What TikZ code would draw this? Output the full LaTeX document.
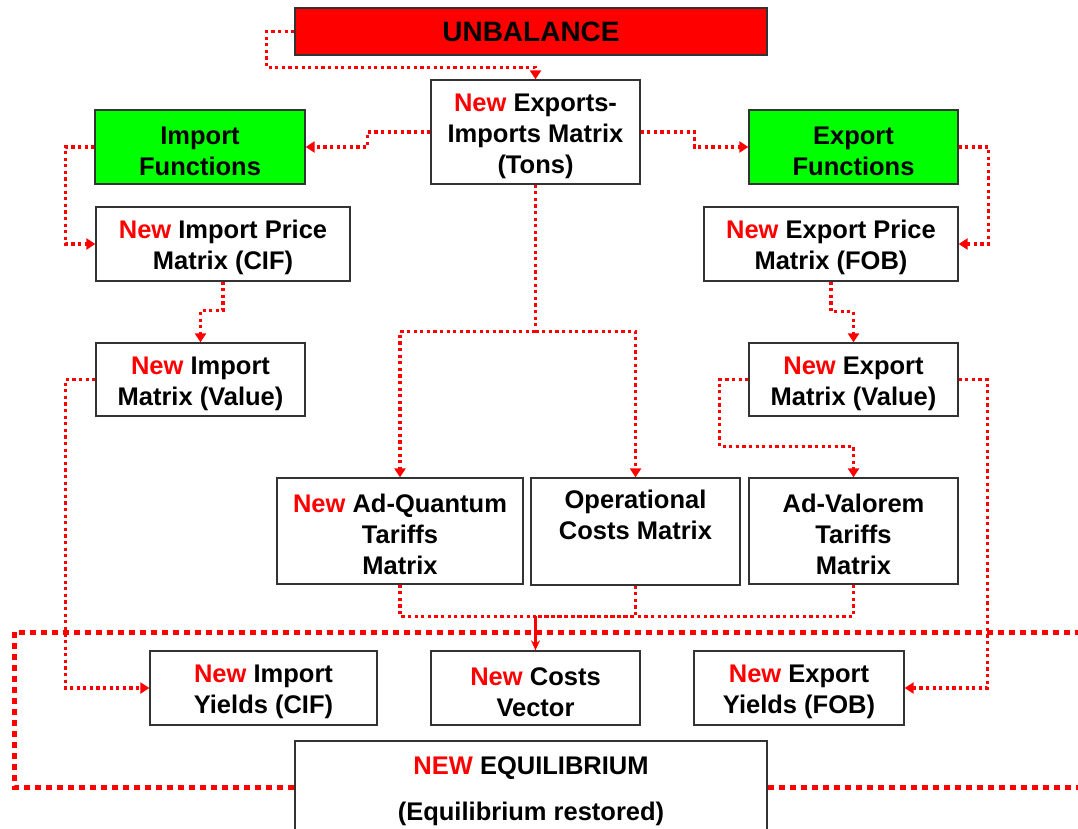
\documentclass[tikz,border=0pt]{standalone}
\usepackage{fontspec}
\setmainfont{Liberation Sans}
\usetikzlibrary{arrows.meta,calc}
\definecolor{pred}{RGB}{255,0,0}
\definecolor{pgreen}{RGB}{0,255,0}
\newcommand{\tp}{\rule{0pt}{26pt}}
\newcommand{\nw}{\tp\textcolor{pred}{New}}
\begin{document}
\begin{tikzpicture}[x=1pt,y=-1pt,
  box/.style={draw=black!80, line width=1.3pt, fill=white, align=center, inner sep=0pt,
    font=\fontsize{25.5}{31}\selectfont\bfseries},
  dl/.style={draw=pred, line width=3.2pt, dash pattern=on 3.2pt off 3.4pt},
  big/.style={draw=pred, line width=5pt, dash pattern=on 6pt off 5pt},
  tip/.style={-{Triangle[width=11pt,length=9pt]}}]
\useasboundingbox (0,0) rectangle (1078,828);

\node[box, fill=pred, minimum width=472pt, minimum height=47pt,
  font=\fontsize{28}{32}\selectfont\bfseries] (unb) at (531,31.5) {UNBALANCE};
\node[box, minimum width=209pt, minimum height=104pt] (eim) at (535.5,132) {\nw{} Exports-\\Imports Matrix\\(Tons)};
\node[box, fill=pgreen, minimum width=210pt, minimum height=74pt] (imf) at (200,147) {\tp Import\\Functions};
\node[box, fill=pgreen, minimum width=209pt, minimum height=74pt] (exf) at (853.5,147) {\tp Export\\Functions};
\node[box, minimum width=254pt, minimum height=74pt] (ipm) at (223,244) {\nw{} Import Price\\Matrix (CIF)};
\node[box, minimum width=254pt, minimum height=74pt] (epm) at (831,244) {\nw{} Export Price\\Matrix (FOB)};
\node[box, minimum width=209pt, minimum height=73pt] (imv) at (200.5,379.5) {\nw{} Import\\Matrix (Value)};
\node[box, minimum width=209pt, minimum height=73pt] (emv) at (853.5,379.5) {\nw{} Export\\Matrix (Value)};
\node[box, minimum width=246pt, minimum height=106pt] (adq) at (400,531) {\nw{} Ad-Quantum\\Tariffs\\Matrix};
\node[box, minimum width=209pt, minimum height=107pt] (ops) at (635.5,531.5) {\tp Operational\\Costs Matrix\\\strut};
\node[box, minimum width=209pt, minimum height=106pt] (adv) at (853.5,531) {\tp Ad-Valorem\\Tariffs\\Matrix};
\node[box, minimum width=227pt, minimum height=74pt] (iyl) at (263.5,688) {\nw{} Import\\Yields (CIF)};
\node[box, minimum width=209pt, minimum height=74pt] (cv) at (535.5,688) {\nw{} Costs\\Vector};
\node[box, minimum width=210pt, minimum height=74pt] (eyl) at (799,688) {\nw{} Export\\Yields (FOB)};
\node[box, minimum width=472pt, minimum height=92pt] (eq) at (531,787) {\tp\textcolor{pred}{NEW} EQUILIBRIUM\\[15pt](Equilibrium restored)};

\draw[dl,tip] (unb.west) -- ++(-28,0) |- ($(eim.north)+(0,-12)$) -- (eim.north);
\draw[dl,tip] (eim.west) -- ++(-63,0) |- (imf.east);
\draw[dl,tip] (eim.east) -- ++(54,0) |- (exf.west);
\draw[dl,tip] (imf.west) -- ++(-29,0) |- (ipm.west);
\draw[dl,tip] (exf.east) -- ++(30,0) |- (epm.east);
\draw[dl,tip] (ipm.south) -- ++(0,29) -| (imv.north);
\draw[dl,tip] (epm.south) -- ++(0,30) -| (emv.north);
\coordinate (j1) at ($(eim.south)+(0,147)$);
\draw[dl] (eim.south) -- (j1);
\draw[dl,tip] (j1) -| (adq.north);
\draw[dl,tip] (j1) -| (ops.north);
\draw[dl,tip] (emv.west) -- ++(-29,0) |- ($(adv.north)+(0,-31)$) -- (adv.north);
\draw[dl,tip] (emv.east) -- ++(29,0) |- (eyl.east);
\draw[dl,tip] (imv.west) -- ++(-30,0) |- (iyl.west);
\coordinate (m) at ($(cv.north)+(0,-34)$);
\draw[dl] (adq.south) |- (m);
\draw[dl] (ops.south) |- (m);
\draw[dl] (adv.south) |- (m);
\draw[pred, line width=2.4pt, -{Stealth[length=10pt,width=9pt]}] (m) -- (cv.north);

\coordinate (le) at (14,632);
\coordinate (re) at (1090,632);
\coordinate (re2) at (1090,787);
\draw[big] (eq.west) -| (le) -- (re);
\draw[big] (eq.east) -- (re2);
\end{tikzpicture}
\end{document}
